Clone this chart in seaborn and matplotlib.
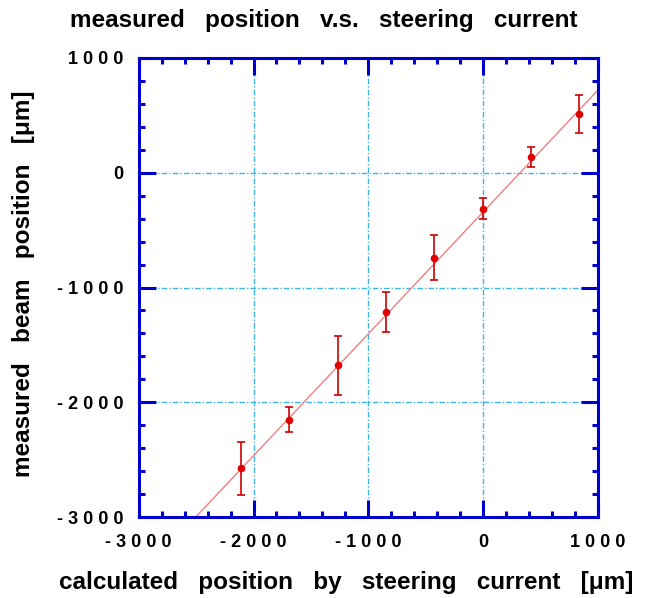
import numpy as np
import pandas as pd
import seaborn as sns
import matplotlib
matplotlib.use("Agg")
import matplotlib.pyplot as plt
from matplotlib.ticker import MultipleLocator, FuncFormatter

# values
calc_pos = [-2110, -1690, -1267, -850, -432, 0, 420, 837]
meas_pos = [-2574, -2150, -1678, -1211, -742, -313, 139, 508]
meas_err = [230, 110, 255, 175, 195, 90, 87, 165]
fit_slope = 1.061
fit_intercept = -342

df = pd.DataFrame({"calc": calc_pos, "meas": meas_pos, "err": meas_err})

sns.set_style("white")
plt.rcParams["font.family"] = ["Liberation Sans", "DejaVu Sans"]
plt.rcParams["font.weight"] = "bold"

blue = "#0000cc"
grid_c = "#3fb4e4"
red = "#e00000"

fig = plt.figure(figsize=(6.49, 5.98), dpi=100)
ax = fig.add_axes([138.7 / 649, 80.7 / 598, 459.3 / 649, 459.6 / 598])
ax.set_axisbelow(False)

ax.set_xlim(-3000, 1000)
ax.set_ylim(-3000, 1000)

# grid
for g in [-2000, -1000, 0]:
    ax.axvline(g, color=grid_c, lw=1, ls=(0, (4, 1.5, 1, 1.5)), zorder=1)
    ax.axhline(g, color=grid_c, lw=1, ls=(0, (4, 1.5, 1, 1.5)), zorder=1)

# fit line
ax.axline((0, fit_intercept), slope=fit_slope, color="#f08080", lw=1, zorder=2)

ax.errorbar(df["calc"], df["meas"], yerr=df["err"], fmt="none",
            ecolor="#d00000", elinewidth=1.2, capsize=2.7, capthick=1.2, zorder=3)
sns.scatterplot(data=df, x="calc", y="meas", ax=ax, color=red, s=30,
                edgecolor=red, linewidth=0, zorder=4)

for sp in ax.spines.values():
    sp.set_color(blue)
    sp.set_linewidth(2.2)
    sp.set_visible(True)

ax.xaxis.set_major_locator(MultipleLocator(1000))
ax.yaxis.set_major_locator(MultipleLocator(1000))
ax.xaxis.set_minor_locator(MultipleLocator(200))
ax.yaxis.set_minor_locator(MultipleLocator(200))
ax.tick_params(which="both", direction="in", top=True, right=True,
               bottom=True, left=True, color=blue, width=2.2,
               labelcolor="black")
ax.tick_params(which="major", length=12.5, labelsize=13)
ax.tick_params(which="minor", length=4.5)
ax.tick_params(axis="x", which="major", pad=12)
ax.tick_params(axis="y", which="major", pad=11)


def spaced(v, pos):
    return " ".join(str(int(round(v))))


ax.xaxis.set_major_formatter(FuncFormatter(spaced))
ax.yaxis.set_major_formatter(FuncFormatter(spaced))
for lab in ax.get_xticklabels() + ax.get_yticklabels():
    lab.set_fontweight("bold")

ax.set_xlabel("")
ax.set_ylabel("")
fig.text(324 / 649, 1 - 20 / 598, "measured   position   v.s.   steering   current",
         ha="center", va="center", fontsize=17.5, fontweight="bold", color="black")
fig.text(346 / 649, 1 - 583 / 598,
         "calculated   position   by   steering   current   [\u03bcm]",
         ha="center", va="center", fontsize=17.5, fontweight="bold", color="black")
fig.text(24 / 649, 1 - 284 / 598,
         "measured   beam   position   [\u03bcm]",
         ha="center", va="center", rotation=90, fontsize=17.5, fontweight="bold",
         color="black")

fig.savefig("out.png", dpi=100)
